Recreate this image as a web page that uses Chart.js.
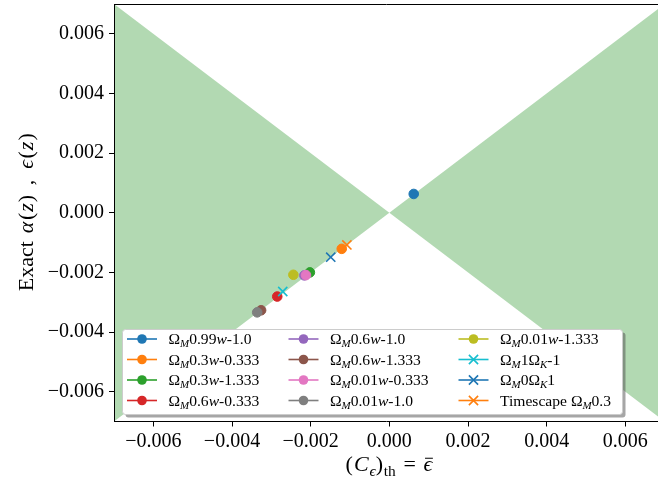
<!DOCTYPE html>
<html><head><meta charset="utf-8">
<script src="https://cdn.jsdelivr.net/npm/chart.js@4/dist/chart.umd.min.js"></script>
<style>html,body{margin:0;padding:0;overflow:hidden;background:#fff}#wrap{width:658px;height:482px}</style>
</head><body><div id="wrap"><canvas id="c" width="658" height="482"></canvas></div>
<script>
// ---- data ----
const seriesLabels = [
  'Ω_{M}0.99$w$-1.0', 'Ω_{M}0.3$w$-0.333', 'Ω_{M}0.3$w$-1.333', 'Ω_{M}0.6$w$-0.333',
  'Ω_{M}0.6$w$-1.0', 'Ω_{M}0.6$w$-1.333', 'Ω_{M}0.01$w$-0.333', 'Ω_{M}0.01$w$-1.0',
  'Ω_{M}0.01$w$-1.333', 'Ω_{M}1Ω_{K}-1', 'Ω_{M}0Ω_{K}1', 'Timescape Ω_{M}0.3'
];
const seriesColors = ['#1f77b4','#ff7f0e','#2ca02c','#d62728','#9467bd','#8c564b','#e377c2','#7f7f7f','#bcbd22','#17becf','#1f77b4','#ff7f0e'];
const seriesMarkers = ['circle','circle','circle','circle','circle','circle','circle','circle','circle','crossRot','crossRot','crossRot'];
const seriesX = [0.00062, -0.00121, -0.00202, -0.00285, -0.00216, -0.00326, -0.00212, -0.00336, -0.00244, -0.00271, -0.00149, -0.00108];
const seriesY = [0.00063, -0.00121, -0.00200, -0.00281, -0.00210, -0.00327, -0.00209, -0.00334, -0.00208, -0.00264, -0.00149, -0.00108];
// shaded wedge boundaries (lines y = x and y = -x)
const wedgeX = [-0.008, 0, 0.008];
const wedgeUpper = [-0.008, 0, 0.008];
const wedgeLower = [0.008, 0, -0.008];
const xTickValues = [-0.006, -0.004, -0.002, 0, 0.002, 0.004, 0.006];
const xTickLabels = ['−0.006','−0.004','−0.002','0.000','0.002','0.004','0.006'];
const yTickValues = [-0.006, -0.004, -0.002, 0, 0.002, 0.004, 0.006];
const yTickLabels = ['−0.006','−0.004','−0.002','0.000','0.002','0.004','0.006'];
const xRange = [-0.007, 0.00683];   // right edge of the axes is cut by the figure border
const yRange = [-0.007, 0.007];

const FAM = '"Liberation Serif","DejaVu Serif",serif';

function parseLabel(s){
  const segs=[]; const re=/_\{([^}]*)\}|\$([^$]*)\$|([^_$]+)/g; let m;
  while((m=re.exec(s))){
    if(m[1]!==undefined) segs.push({t:m[1],it:true,sub:true});
    else if(m[2]!==undefined) segs.push({t:m[2],it:true});
    else segs.push({t:m[3]});
  }
  return segs;
}
function drawRich(ctx, segs, x, y, size, align){
  const fontFor = s => (s.it?'italic ':'') + (s.sub? size*0.7 : size) + 'px ' + FAM;
  let total=0;
  segs.forEach(s=>{ctx.font=fontFor(s); s.w=ctx.measureText(s.t).width + (s.pad||0); total+=s.w;});
  let cx = align==='center' ? x-total/2 : x;
  ctx.textAlign='left'; ctx.textBaseline='alphabetic';
  segs.forEach(s=>{
    ctx.font=fontFor(s);
    const yy = y + (s.sub ? size*0.22 : 0);
    ctx.fillText(s.t, cx + (s.pad||0)/2, yy);
    if(s.bar){
      ctx.beginPath(); ctx.lineWidth=1; ctx.strokeStyle=ctx.fillStyle;
      ctx.moveTo(cx+1.5, yy-size*0.58); ctx.lineTo(cx+s.w+0.5, yy-size*0.58); ctx.stroke();
    }
    cx+=s.w;
  });
}
function rrect(ctx,x,y,w,h,r){
  ctx.beginPath(); ctx.moveTo(x+r,y); ctx.lineTo(x+w-r,y); ctx.quadraticCurveTo(x+w,y,x+w,y+r);
  ctx.lineTo(x+w,y+h-r); ctx.quadraticCurveTo(x+w,y+h,x+w-r,y+h); ctx.lineTo(x+r,y+h);
  ctx.quadraticCurveTo(x,y+h,x,y+h-r); ctx.lineTo(x,y+r); ctx.quadraticCurveTo(x,y,x+r,y); ctx.closePath();
}

const decor = {
  id:'decor',
  afterDraw(chart){
    const ctx=chart.ctx, a=chart.chartArea;
    ctx.save();
    // top and left spines (right spine lies outside the figure)
    ctx.strokeStyle='#000'; ctx.lineWidth=1;
    ctx.beginPath(); ctx.moveTo(Math.round(a.left), Math.round(a.top)+0.5); ctx.lineTo(a.right+2, Math.round(a.top)+0.5); ctx.stroke();
    ctx.beginPath(); ctx.moveTo(Math.round(a.left)+0.5, Math.round(a.top)); ctx.lineTo(Math.round(a.left)+0.5, Math.round(a.bottom)); ctx.stroke();
    // legend
    const Lx=122.5, Ly=329.5, Lw=500, Lh=85;
    ctx.fillStyle='rgba(77,77,77,0.5)'; rrect(ctx,Lx+3,Ly+3,Lw,Lh,3); ctx.fill();
    ctx.fillStyle='#fff'; rrect(ctx,Lx,Ly,Lw,Lh,3); ctx.fill();
    ctx.strokeStyle='#cccccc'; ctx.lineWidth=1; ctx.stroke();
    const colX=[127, 288.5, 458.5], rowY=[339, 359.5, 380, 400.5];
    chart.data.datasets.forEach((ds)=>{
      if(ds.legendIndex===undefined) return;
      const i=ds.legendIndex, hx=colX[Math.floor(i/4)], hy=rowY[i%4];
      ctx.strokeStyle=seriesColors[i]; ctx.fillStyle=seriesColors[i]; ctx.lineWidth=1.6;
      ctx.beginPath(); ctx.moveTo(hx,hy); ctx.lineTo(hx+30,hy); ctx.stroke();
      if(seriesMarkers[i]==='circle'){ ctx.beginPath(); ctx.arc(hx+15,hy,4.8,0,Math.PI*2); ctx.fill(); }
      else { ctx.beginPath(); const d=4.6; ctx.moveTo(hx+15-d,hy-d); ctx.lineTo(hx+15+d,hy+d); ctx.moveTo(hx+15-d,hy+d); ctx.lineTo(hx+15+d,hy-d); ctx.stroke(); }
      ctx.fillStyle='#000';
      drawRich(ctx, parseLabel(seriesLabels[i]), hx+41.5, hy+5, 15.6, 'left');
    });
    // axis titles
    ctx.fillStyle='#000';
    drawRich(ctx, [{t:'('},{t:'C',it:true,pad:2},{t:'ϵ',it:true,sub:true},{t:')'},{t:'th',sub:true,pad:1},{t:' = ',pad:4},{t:'ϵ',it:true,bar:true}], 389, 471, 22, 'center');
    ctx.save(); ctx.translate(25, 212.75); ctx.rotate(-Math.PI/2);
    drawRich(ctx, [{t:'Exact ',pad:2},{t:'α',it:true,pad:3},{t:'('},{t:'z',it:true,pad:2},{t:')'},{t:' , ',pad:8},{t:'ϵ',it:true,pad:3},{t:'('},{t:'z',it:true,pad:2},{t:')'}], 0, 7.7, 22, 'center');
    ctx.restore();
    ctx.restore();
  }
};

const datasets = [
  {type:'line', data: wedgeX.map((x,i)=>({x, y:wedgeUpper[i]})), fill:'+1', backgroundColor:'rgba(0,128,0,0.3)', borderColor:'transparent', borderWidth:0, pointRadius:0, order:100},
  {type:'line', data: wedgeX.map((x,i)=>({x, y:wedgeLower[i]})), fill:false, borderColor:'transparent', borderWidth:0, pointRadius:0, order:100}
];
seriesLabels.forEach((lab,i)=>{
  const circ = seriesMarkers[i]==='circle';
  datasets.push({type:'scatter', label:lab, legendIndex:i, data:[{x:seriesX[i], y:seriesY[i]}],
    pointStyle:seriesMarkers[i], pointRadius: circ?4.8:6.5, pointBorderWidth: circ?1:1.6,
    backgroundColor:seriesColors[i], borderColor:seriesColors[i], order: 50 - i});
});

const zeroPad = s => { s.paddingTop=0; s.paddingBottom=0; s.paddingLeft=0; s.paddingRight=0; };
const tickFont = {family: FAM, size: 20};
new Chart(document.getElementById('c'), {
  type:'scatter',
  data:{datasets},
  options:{
    responsive:false, animation:false, devicePixelRatio:1,
    layout:{autoPadding:false, padding:{top:4, left:0, right:0, bottom:0}},
    plugins:{legend:{display:false}, tooltip:{enabled:false}},
    scales:{
      x:{type:'linear', min:xRange[0], max:xRange[1],
        afterBuildTicks: s=>{ s.ticks = xTickValues.map(v=>({value:v})); },
        afterFit: s=>{ s.height = 60.5; zeroPad(s); },
        ticks:{callback:(v,i)=>xTickLabels[i], font:tickFont, color:'#000', padding:3, maxRotation:0, autoSkip:false},
        grid:{drawOnChartArea:false, drawTicks:true, tickLength:5, tickColor:'#000', tickWidth:1},
        border:{display:true, color:'#000', width:1}},
      y:{type:'linear', min:yRange[0], max:yRange[1],
        afterBuildTicks: s=>{ s.ticks = yTickValues.map(v=>({value:v})); },
        afterFit: s=>{ s.width = 114; zeroPad(s); },
        ticks:{callback:(v,i)=>yTickLabels[i], font:tickFont, color:'#000', padding:5, autoSkip:false},
        grid:{drawOnChartArea:false, drawTicks:true, tickLength:5, tickColor:'#000', tickWidth:1},
        border:{display:true, color:'#000', width:1}}
    }
  },
  plugins:[decor]
});
</script></body></html>
